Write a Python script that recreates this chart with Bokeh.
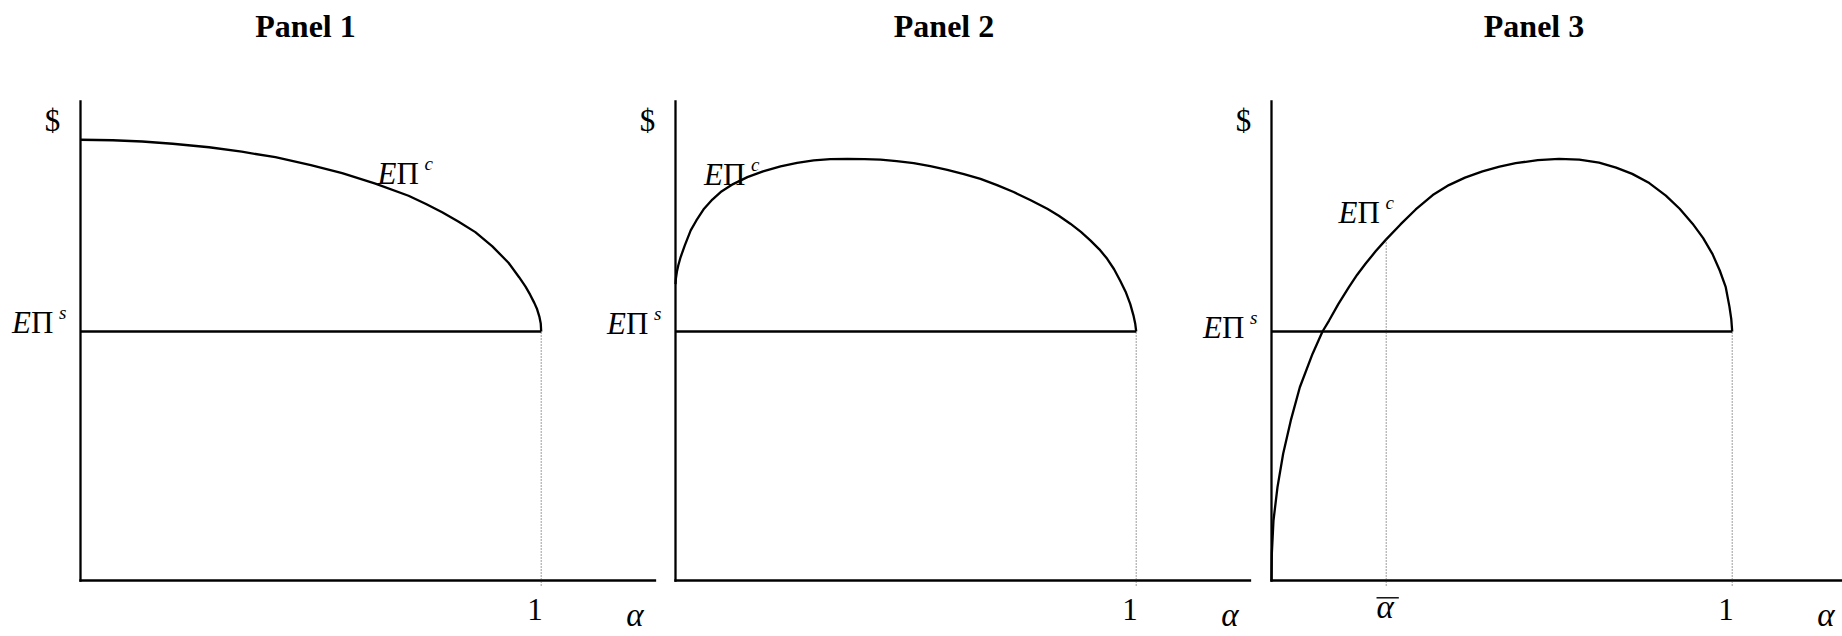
from bokeh.plotting import figure
from bokeh.models import Range1d
from bokeh.core.properties import value
from bokeh.embed import file_html
from bokeh.resources import INLINE

# ---------------- data ----------------
panel_titles = ["Panel 1", "Panel 2", "Panel 3"]

# expected profit under the "s" regime (horizontal line), per panel
ep_s = [1.0, 1.0, 1.0]

# expected profit curve E-Pi^c, panel 1
p1_alpha = [0.0, 0.07, 0.134, 0.2, 0.279, 0.35, 0.423, 0.5, 0.568, 0.64,
            0.712, 0.75, 0.785, 0.82, 0.857, 0.894, 0.929, 0.952, 0.966,
            0.976, 0.985, 0.991, 0.996, 0.999, 1.0]
p1_epc = [1.770, 1.768, 1.763, 1.754, 1.740, 1.722, 1.700, 1.668, 1.636, 1.594,
          1.545, 1.512, 1.479, 1.442, 1.399, 1.342, 1.276, 1.218, 1.180,
          1.148, 1.115, 1.090, 1.060, 1.032, 1.0]

# panel 2
p2_alpha = [0.0, 0.001, 0.003, 0.006, 0.011, 0.02, 0.033, 0.045, 0.062, 0.08,
            0.098, 0.125, 0.156, 0.19, 0.228, 0.264, 0.300, 0.336, 0.373,
            0.41, 0.445, 0.48, 0.517, 0.553, 0.590, 0.626, 0.662, 0.698,
            0.734, 0.77, 0.807, 0.832, 0.857, 0.88, 0.901, 0.92, 0.937,
            0.952, 0.965, 0.977, 0.987, 0.994, 0.998, 1.0]
p2_epc = [1.19, 1.215, 1.24, 1.265, 1.298, 1.345, 1.406, 1.445, 1.493, 1.53,
          1.560, 1.592, 1.620, 1.643, 1.663, 1.677, 1.687, 1.692, 1.693,
          1.692, 1.690, 1.684, 1.676, 1.664, 1.649, 1.632, 1.613, 1.588,
          1.560, 1.528, 1.493, 1.465, 1.433, 1.400, 1.365, 1.330, 1.292,
          1.250, 1.205, 1.160, 1.111, 1.065, 1.030, 1.0]

# panel 3
p3_alpha = [0.0, 0.0007, 0.0043, 0.013, 0.0253, 0.0419, 0.0615, 0.089,
            0.1107, 0.125, 0.145, 0.168, 0.186, 0.204, 0.226, 0.249, 0.28,
            0.313, 0.35, 0.385, 0.42, 0.458, 0.495, 0.530, 0.578, 0.624,
            0.668, 0.711, 0.748, 0.783, 0.82, 0.856, 0.886, 0.914, 0.937,
            0.957, 0.973, 0.986, 0.994, 0.998, 1.0]
p3_epc = [0.0, 0.107, 0.241, 0.375, 0.509, 0.643, 0.776, 0.910,
          1.0, 1.044, 1.11, 1.178, 1.228, 1.272, 1.322, 1.37, 1.430,
          1.490, 1.548, 1.588, 1.618, 1.643, 1.662, 1.676, 1.688, 1.693,
          1.690, 1.678, 1.658, 1.633, 1.596, 1.546, 1.493, 1.433, 1.375,
          1.312, 1.245, 1.178, 1.10, 1.05, 1.0]

curves_alpha = [p1_alpha, p2_alpha, p3_alpha]
curves_epc = [p1_epc, p2_epc, p3_epc]

alpha_one = 1.0          # the "1" mark on each alpha axis
alpha_bar = 0.249        # alpha-bar in panel 3
alpha_bar_epc = 1.37     # curve value at alpha-bar
tick_one_label = "1"
axis_x_label = "α"
axis_y_label = "$"

# ---------------- layout (pixels of the picture) ----------------
W, H = 1842, 636
XS = 460.7      # px per alpha unit
YS = 249.0      # px per $ unit
X0, Y0 = 80.0, 580.0          # px of panel-1 origin
PANEL_OFF = [0.0, 595.0 / XS, 1191.0 / XS]
AXIS_X_LEN = 1.247
AXIS_Y_TOP = (Y0 - 101.0) / YS
BASE_SHIFT = 0.36   # em, rendered baseline sits this far below the anchor


def fx(px):
    return (px - X0) / XS


def fy(py):
    return (Y0 - py) / YS


def fyb(py, fs):
    # anchor for a text whose baseline should lie at py
    return fy(py - BASE_SHIFT * fs)


def dx(px):
    return px / XS


def dy(px):
    return px / YS


p = figure(width=W, height=H, output_backend="svg", toolbar_location=None,
           x_range=Range1d(fx(0), fx(W)), y_range=Range1d(fy(H), fy(0)),
           min_border=0, min_border_left=0, min_border_right=0,
           min_border_top=0, min_border_bottom=0)
p.axis.visible = False
p.grid.visible = False
p.outline_line_color = None
p.background_fill_color = "white"
p.border_fill_color = "white"

SERIF = value("Liberation Serif")
BLACK = "#000000"
LW = 2.3
DOT = "#3c3c3c"

for i in range(3):
    off = PANEL_OFF[i]
    # axes
    p.segment(x0=[off], y0=[0.0], x1=[off], y1=[AXIS_Y_TOP],
              line_color=BLACK, line_width=LW, line_cap="square")
    p.segment(x0=[off], y0=[0.0], x1=[off + AXIS_X_LEN], y1=[0.0],
              line_color=BLACK, line_width=LW, line_cap="square")
    # dotted guide at alpha = 1
    p.segment(x0=[off + alpha_one], y0=[fy(585)], x1=[off + alpha_one], y1=[ep_s[i]],
              line_color=DOT, line_width=1, line_dash="1 2")
    # E Pi^s line
    p.segment(x0=[off], y0=[ep_s[i]], x1=[off + alpha_one], y1=[ep_s[i]],
              line_color=BLACK, line_width=LW)
    # E Pi^c curve
    p.line([a + off for a in curves_alpha[i]], curves_epc[i],
           line_color=BLACK, line_width=LW, line_join="round")

# dotted guide at alpha-bar (panel 3)
p.segment(x0=[PANEL_OFF[2] + alpha_bar], y0=[fy(585)],
          x1=[PANEL_OFF[2] + alpha_bar], y1=[alpha_bar_epc],
          line_color=DOT, line_width=1, line_dash="1 2")

# ---------------- texts ----------------
FS = 31
AFS = 33
# titles
p.text(x=[fx(305), fx(943.5), fx(1533.5)], y=[fyb(36.7, 32)] * 3, text=panel_titles,
       text_font=SERIF, text_font_size="32px", text_font_style="bold",
       text_align="center", text_baseline="alphabetic", text_color=BLACK)

# "$" labels
p.text(x=[off - dx(28) for off in PANEL_OFF], y=[fyb(131.5, FS)] * 3,
       text=[axis_y_label] * 3, text_font=SERIF, text_font_size=f"{FS}px",
       text_align="center", text_baseline="alphabetic", text_color=BLACK)

# "1" tick labels
p.text(x=[off + alpha_one - dx(6.3) for off in PANEL_OFF], y=[fyb(620, FS)] * 3,
       text=[tick_one_label] * 3, text_font=SERIF, text_font_size=f"{FS}px",
       text_align="center", text_baseline="alphabetic", text_color=BLACK)

# alpha axis labels
p.text(x=[off + dx(554.5) for off in PANEL_OFF], y=[fyb(626, AFS)] * 3,
       text=[axis_x_label] * 3, text_font=SERIF, text_font_size=f"{AFS}px",
       text_font_style="italic", text_align="center",
       text_baseline="alphabetic", text_color=BLACK)

# alpha-bar label
p.text(x=[PANEL_OFF[2] + alpha_bar - dx(1)], y=[fyb(618.5, AFS)], text=[axis_x_label],
       text_font=SERIF, text_font_size=f"{AFS}px", text_font_style="italic",
       text_align="center", text_baseline="alphabetic", text_color=BLACK)
p.segment(x0=[PANEL_OFF[2] + alpha_bar - dx(9.7)], y0=[fy(597.3)],
          x1=[PANEL_OFF[2] + alpha_bar + dx(12.6)], y1=[fy(597.3)],
          line_color=BLACK, line_width=1.4)


def epi_label(xs_left, base_px, sup):
    # italic E, upright Pi, italic superscript
    n = len(xs_left)
    p.text(x=xs_left, y=[fyb(b, FS) for b in base_px], text=["E"] * n,
           text_font=SERIF, text_font_size=f"{FS}px", text_font_style="italic",
           text_align="left", text_baseline="alphabetic", text_color=BLACK)
    p.text(x=[x + dx(19) for x in xs_left], y=[fyb(b, FS) for b in base_px],
           text=["Π"] * n, text_font=SERIF, text_font_size=f"{FS}px",
           text_align="left", text_baseline="alphabetic", text_color=BLACK)
    p.text(x=[x + dx(47) for x in xs_left], y=[fyb(b - 14, 19) for b in base_px],
           text=[sup] * n, text_font=SERIF, text_font_size="19px",
           text_font_style="italic", text_align="left",
           text_baseline="alphabetic", text_color=BLACK)


# E Pi^s labels (left of each y axis)
eps_base_px = [333, 334, 338]
epi_label([off - dx(68.5) for off in PANEL_OFF], eps_base_px, "s")

# E Pi^c labels near the curves
epc_left_px = [377, 703.5, 1338]
epc_base_px = [184, 185, 223]
epi_label([fx(x) for x in epc_left_px], epc_base_px, "c")

open("out.html", "w").write(file_html(p, INLINE))
